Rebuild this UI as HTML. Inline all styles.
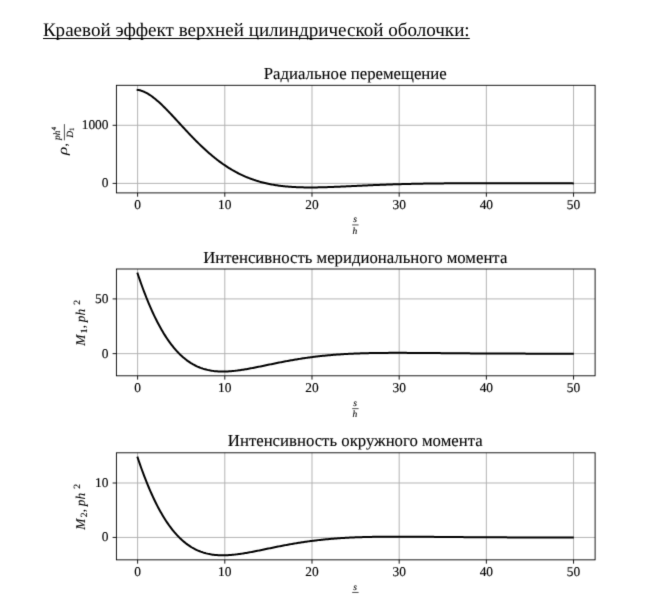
<!DOCTYPE html>
<html><head><meta charset="utf-8"><title>doc</title>
<style>
html,body{margin:0;padding:0;background:#fff;}
body{width:666px;height:594px;overflow:hidden;position:relative;font-family:"Liberation Serif",serif;}
svg{position:absolute;left:0;top:0;}
text{font-family:"Liberation Serif",serif;fill:#000;text-rendering:geometricPrecision;}
.hd{font-size:19.07px;}
.tt{font-size:16.75px;}
.tl{font-size:13.4px;}
.it{font-size:13.4px;font-style:italic;}
.sm{font-size:9.5px;font-style:italic;}
.su{font-size:9.5px;}
.ss{font-size:6.8px;}
.it,.sm,.su,.ss{stroke:#000;stroke-width:0.1px;}
.tl{stroke:#000;stroke-width:0.15px;}
.tt{stroke:#000;stroke-width:0.1px;}
.gr{stroke:#b0b0b0;stroke-width:0.95;}
.fr{fill:none;stroke:#000;stroke-width:0.9;}
.tk{stroke:#000;stroke-width:0.9;}
.bar{stroke:#000;stroke-width:0.7;}
.cv{fill:none;stroke:#000;stroke-width:2.0;stroke-linejoin:round;stroke-linecap:square;}
</style></head><body>
<svg width="666" height="594" viewBox="0 0 666 594">
<defs><filter id="bl" x="0" y="0" width="666" height="594" filterUnits="userSpaceOnUse" color-interpolation-filters="sRGB">
<feConvolveMatrix order="3" kernelMatrix="0.0121 0.0858 0.0121 0.0858 0.6084 0.0858 0.0121 0.0858 0.0121" edgeMode="duplicate" preserveAlpha="false"/></filter></defs>
<rect x="0" y="0" width="666" height="594" fill="#fff"/>
<g filter="url(#bl)">
<rect x="0" y="0" width="666" height="594" fill="#fff"/>
<text x="42.9" y="35.7" class="hd">Краевой эффект верхней цилиндрической оболочки:</text>
<line x1="43.0" y1="38.5" x2="469.8" y2="38.5" stroke="#000" stroke-width="1"/>
<line x1="137.62" y1="85.3" x2="137.62" y2="192.9" class="gr"/>
<line x1="224.81" y1="85.3" x2="224.81" y2="192.9" class="gr"/>
<line x1="311.99" y1="85.3" x2="311.99" y2="192.9" class="gr"/>
<line x1="399.18" y1="85.3" x2="399.18" y2="192.9" class="gr"/>
<line x1="486.36" y1="85.3" x2="486.36" y2="192.9" class="gr"/>
<line x1="573.55" y1="85.3" x2="573.55" y2="192.9" class="gr"/>
<line x1="116.4" y1="183.40" x2="595.1" y2="183.40" class="gr"/>
<line x1="116.4" y1="125.30" x2="595.1" y2="125.30" class="gr"/>
<polyline points="137.62,89.92 138.71,90.08 139.80,90.30 140.88,90.59 141.97,90.94 143.06,91.34 144.15,91.79 145.24,92.30 146.32,92.86 147.41,93.46 148.50,94.11 149.59,94.80 150.68,95.53 151.76,96.30 152.85,97.10 153.94,97.94 155.03,98.81 156.12,99.71 157.21,100.64 158.29,101.59 159.38,102.58 160.47,103.58 161.56,104.60 162.65,105.65 163.73,106.71 164.82,107.79 165.91,108.89 167.00,110.00 168.09,111.12 169.17,112.26 170.26,113.40 171.35,114.55 172.44,115.71 173.53,116.88 174.61,118.05 175.70,119.23 176.79,120.41 177.88,121.59 178.97,122.77 180.05,123.95 181.14,125.13 182.23,126.31 183.32,127.49 184.41,128.67 185.50,129.84 186.58,131.00 187.67,132.16 188.76,133.32 189.85,134.47 190.94,135.61 192.02,136.74 193.11,137.86 194.20,138.98 195.29,140.09 196.38,141.18 197.46,142.27 198.55,143.34 199.64,144.41 200.73,145.46 201.82,146.50 202.90,147.53 203.99,148.54 205.08,149.55 206.17,150.54 207.26,151.51 208.34,152.48 209.43,153.43 210.52,154.36 211.61,155.28 212.70,156.19 213.78,157.08 214.87,157.96 215.96,158.83 217.05,159.68 218.14,160.51 219.23,161.33 220.31,162.13 221.40,162.92 222.49,163.70 223.58,164.46 224.67,165.20 225.75,165.93 226.84,166.65 227.93,167.35 229.02,168.03 230.11,168.70 231.19,169.36 232.28,170.00 233.37,170.63 234.46,171.24 235.55,171.84 236.63,172.42 237.72,172.99 238.81,173.55 239.90,174.09 240.99,174.62 242.07,175.13 243.16,175.63 244.25,176.12 245.34,176.59 246.43,177.05 247.51,177.50 248.60,177.93 249.69,178.36 250.78,178.77 251.87,179.16 252.96,179.55 254.04,179.92 255.13,180.29 256.22,180.64 257.31,180.98 258.40,181.30 259.48,181.62 260.57,181.93 261.66,182.22 262.75,182.51 263.84,182.78 264.92,183.05 266.01,183.30 267.10,183.55 268.19,183.78 269.28,184.01 270.36,184.22 271.45,184.43 272.54,184.63 273.63,184.82 274.72,185.00 275.80,185.18 276.89,185.34 277.98,185.50 279.07,185.65 280.16,185.79 281.25,185.93 282.33,186.06 283.42,186.18 284.51,186.30 285.60,186.40 286.69,186.51 287.77,186.60 288.86,186.69 289.95,186.77 291.04,186.85 292.13,186.92 293.21,186.99 294.30,187.05 295.39,187.11 296.48,187.16 297.57,187.21 298.65,187.25 299.74,187.29 300.83,187.32 301.92,187.35 303.01,187.37 304.09,187.39 305.18,187.41 306.27,187.43 307.36,187.44 308.45,187.44 309.53,187.44 310.62,187.44 311.71,187.44 312.80,187.44 313.89,187.43 314.98,187.42 316.06,187.40 317.15,187.38 318.24,187.37 319.33,187.34 320.42,187.32 321.50,187.30 322.59,187.27 323.68,187.24 324.77,187.21 325.86,187.18 326.94,187.14 328.03,187.11 329.12,187.07 330.21,187.03 331.30,186.99 332.38,186.95 333.47,186.91 334.56,186.86 335.65,186.82 336.74,186.78 337.82,186.73 338.91,186.68 340.00,186.64 341.09,186.59 342.18,186.54 343.27,186.49 344.35,186.44 345.44,186.39 346.53,186.34 347.62,186.29 348.71,186.24 349.79,186.19 350.88,186.14 351.97,186.09 353.06,186.04 354.15,185.99 355.23,185.94 356.32,185.88 357.41,185.83 358.50,185.78 359.59,185.73 360.67,185.68 361.76,185.63 362.85,185.58 363.94,185.53 365.03,185.48 366.11,185.43 367.20,185.38 368.29,185.34 369.38,185.29 370.47,185.24 371.55,185.19 372.64,185.15 373.73,185.10 374.82,185.05 375.91,185.01 377.00,184.97 378.08,184.92 379.17,184.88 380.26,184.83 381.35,184.79 382.44,184.75 383.52,184.71 384.61,184.67 385.70,184.63 386.79,184.59 387.88,184.55 388.96,184.51 390.05,184.47 391.14,184.44 392.23,184.40 393.32,184.37 394.40,184.33 395.49,184.30 396.58,184.26 397.67,184.23 398.76,184.20 399.84,184.17 400.93,184.13 402.02,184.10 403.11,184.07 404.20,184.04 405.28,184.02 406.37,183.99 407.46,183.96 408.55,183.93 409.64,183.91 410.73,183.88 411.81,183.86 412.90,183.83 413.99,183.81 415.08,183.79 416.17,183.76 417.25,183.74 418.34,183.72 419.43,183.70 420.52,183.68 421.61,183.66 422.69,183.64 423.78,183.62 424.87,183.61 425.96,183.59 427.05,183.57 428.13,183.56 429.22,183.54 430.31,183.52 431.40,183.51 432.49,183.50 433.57,183.48 434.66,183.47 435.75,183.46 436.84,183.44 437.93,183.43 439.02,183.42 440.10,183.41 441.19,183.40 442.28,183.39 443.37,183.38 444.46,183.37 445.54,183.36 446.63,183.35 447.72,183.34 448.81,183.33 449.90,183.33 450.98,183.32 452.07,183.31 453.16,183.30 454.25,183.30 455.34,183.29 456.42,183.29 457.51,183.28 458.60,183.28 459.69,183.27 460.78,183.27 461.86,183.26 462.95,183.26 464.04,183.26 465.13,183.25 466.22,183.25 467.30,183.25 468.39,183.24 469.48,183.24 470.57,183.24 471.66,183.24 472.75,183.23 473.83,183.23 474.92,183.23 476.01,183.23 477.10,183.23 478.19,183.23 479.27,183.23 480.36,183.23 481.45,183.23 482.54,183.23 483.63,183.23 484.71,183.23 485.80,183.23 486.89,183.23 487.98,183.23 489.07,183.23 490.15,183.23 491.24,183.23 492.33,183.23 493.42,183.23 494.51,183.23 495.59,183.23 496.68,183.23 497.77,183.23 498.86,183.23 499.95,183.24 501.03,183.24 502.12,183.24 503.21,183.24 504.30,183.24 505.39,183.24 506.48,183.25 507.56,183.25 508.65,183.25 509.74,183.25 510.83,183.25 511.92,183.26 513.00,183.26 514.09,183.26 515.18,183.26 516.27,183.26 517.36,183.27 518.44,183.27 519.53,183.27 520.62,183.27 521.71,183.27 522.80,183.28 523.88,183.28 524.97,183.28 526.06,183.28 527.15,183.29 528.24,183.29 529.32,183.29 530.41,183.29 531.50,183.29 532.59,183.30 533.68,183.30 534.77,183.30 535.85,183.30 536.94,183.31 538.03,183.31 539.12,183.31 540.21,183.31 541.29,183.31 542.38,183.32 543.47,183.32 544.56,183.32 545.65,183.32 546.73,183.32 547.82,183.33 548.91,183.33 550.00,183.33 551.09,183.33 552.17,183.33 553.26,183.34 554.35,183.34 555.44,183.34 556.53,183.34 557.61,183.34 558.70,183.34 559.79,183.35 560.88,183.35 561.97,183.35 563.05,183.35 564.14,183.35 565.23,183.35 566.32,183.36 567.41,183.36 568.50,183.36 569.58,183.36 570.67,183.36 571.76,183.36 572.85,183.37" class="cv"/>
<rect x="116.4" y="85.3" width="478.70" height="107.60" class="fr"/>
<line x1="137.62" y1="192.9" x2="137.62" y2="196.70000000000002" class="tk"/>
<text x="137.62" y="209.20" class="tl" text-anchor="middle">0</text>
<line x1="224.81" y1="192.9" x2="224.81" y2="196.70000000000002" class="tk"/>
<text x="224.81" y="209.20" class="tl" text-anchor="middle">10</text>
<line x1="311.99" y1="192.9" x2="311.99" y2="196.70000000000002" class="tk"/>
<text x="311.99" y="209.20" class="tl" text-anchor="middle">20</text>
<line x1="399.18" y1="192.9" x2="399.18" y2="196.70000000000002" class="tk"/>
<text x="399.18" y="209.20" class="tl" text-anchor="middle">30</text>
<line x1="486.36" y1="192.9" x2="486.36" y2="196.70000000000002" class="tk"/>
<text x="486.36" y="209.20" class="tl" text-anchor="middle">40</text>
<line x1="573.55" y1="192.9" x2="573.55" y2="196.70000000000002" class="tk"/>
<text x="573.55" y="209.20" class="tl" text-anchor="middle">50</text>
<line x1="112.60000000000001" y1="183.40" x2="116.4" y2="183.40" class="tk"/>
<text x="108.50" y="187.30" class="tl" text-anchor="end">0</text>
<line x1="112.60000000000001" y1="125.30" x2="116.4" y2="125.30" class="tk"/>
<text x="108.50" y="129.20" class="tl" text-anchor="end">1000</text>
<text x="355.25" y="78.80" class="tt" text-anchor="middle">Радиальное перемещение</text>
<text x="355.10" y="222.10" class="sm" text-anchor="middle">s</text>
<line x1="352.20" y1="224.95" x2="358.60" y2="224.95" class="bar"/>
<text x="354.90" y="233.60" class="sm" text-anchor="middle">h</text>
<g transform="translate(67,139.50) rotate(-90)"><text transform="translate(-15.4,0) scale(1.28,1)" class="it" style="stroke:none">ρ</text><text x="-7.0" y="0" class="it">,</text><line x1="-0.8" y1="-2.6" x2="15.4" y2="-2.6" class="bar"/><text x="-0.6" y="-6.6" class="sm">ph</text><text x="9.2" y="-10.8" class="ss">4</text><text x="1.8" y="6.1" class="sm">D</text><text x="8.6" y="6.9" class="ss">1</text></g>
<line x1="137.62" y1="269.0" x2="137.62" y2="375.8" class="gr"/>
<line x1="224.81" y1="269.0" x2="224.81" y2="375.8" class="gr"/>
<line x1="311.99" y1="269.0" x2="311.99" y2="375.8" class="gr"/>
<line x1="399.18" y1="269.0" x2="399.18" y2="375.8" class="gr"/>
<line x1="486.36" y1="269.0" x2="486.36" y2="375.8" class="gr"/>
<line x1="573.55" y1="269.0" x2="573.55" y2="375.8" class="gr"/>
<line x1="116.4" y1="353.63" x2="595.1" y2="353.63" class="gr"/>
<line x1="116.4" y1="298.92" x2="595.1" y2="298.92" class="gr"/>
<polyline points="137.62,273.53 138.71,276.76 139.80,279.92 140.88,283.01 141.97,286.03 143.06,289.00 144.15,291.89 145.24,294.72 146.32,297.49 147.41,300.19 148.50,302.83 149.59,305.41 150.68,307.92 151.76,310.37 152.85,312.76 153.94,315.09 155.03,317.35 156.12,319.56 157.21,321.71 158.29,323.80 159.38,325.83 160.47,327.81 161.56,329.73 162.65,331.59 163.73,333.40 164.82,335.15 165.91,336.85 167.00,338.50 168.09,340.10 169.17,341.64 170.26,343.13 171.35,344.58 172.44,345.97 173.53,347.32 174.61,348.62 175.70,349.88 176.79,351.09 177.88,352.25 178.97,353.37 180.05,354.45 181.14,355.49 182.23,356.48 183.32,357.44 184.41,358.35 185.50,359.23 186.58,360.07 187.67,360.87 188.76,361.63 189.85,362.36 190.94,363.06 192.02,363.72 193.11,364.35 194.20,364.94 195.29,365.51 196.38,366.04 197.46,366.55 198.55,367.02 199.64,367.47 200.73,367.89 201.82,368.28 202.90,368.65 203.99,368.99 205.08,369.30 206.17,369.59 207.26,369.86 208.34,370.11 209.43,370.33 210.52,370.54 211.61,370.72 212.70,370.88 213.78,371.03 214.87,371.15 215.96,371.26 217.05,371.35 218.14,371.42 219.23,371.48 220.31,371.52 221.40,371.54 222.49,371.56 223.58,371.55 224.67,371.54 225.75,371.51 226.84,371.47 227.93,371.41 229.02,371.35 230.11,371.28 231.19,371.19 232.28,371.09 233.37,370.99 234.46,370.88 235.55,370.75 236.63,370.62 237.72,370.48 238.81,370.34 239.90,370.18 240.99,370.02 242.07,369.86 243.16,369.69 244.25,369.51 245.34,369.33 246.43,369.14 247.51,368.95 248.60,368.75 249.69,368.55 250.78,368.35 251.87,368.14 252.96,367.94 254.04,367.72 255.13,367.51 256.22,367.29 257.31,367.07 258.40,366.85 259.48,366.63 260.57,366.41 261.66,366.18 262.75,365.96 263.84,365.73 264.92,365.51 266.01,365.28 267.10,365.05 268.19,364.83 269.28,364.60 270.36,364.38 271.45,364.15 272.54,363.93 273.63,363.70 274.72,363.48 275.80,363.26 276.89,363.04 277.98,362.82 279.07,362.60 280.16,362.39 281.25,362.17 282.33,361.96 283.42,361.75 284.51,361.54 285.60,361.34 286.69,361.13 287.77,360.93 288.86,360.73 289.95,360.53 291.04,360.34 292.13,360.15 293.21,359.96 294.30,359.77 295.39,359.58 296.48,359.40 297.57,359.22 298.65,359.04 299.74,358.87 300.83,358.70 301.92,358.53 303.01,358.36 304.09,358.20 305.18,358.04 306.27,357.88 307.36,357.73 308.45,357.58 309.53,357.43 310.62,357.28 311.71,357.14 312.80,357.00 313.89,356.86 314.98,356.73 316.06,356.59 317.15,356.47 318.24,356.34 319.33,356.22 320.42,356.10 321.50,355.98 322.59,355.86 323.68,355.75 324.77,355.64 325.86,355.53 326.94,355.43 328.03,355.33 329.12,355.23 330.21,355.13 331.30,355.04 332.38,354.95 333.47,354.86 334.56,354.77 335.65,354.69 336.74,354.61 337.82,354.53 338.91,354.45 340.00,354.38 341.09,354.31 342.18,354.24 343.27,354.17 344.35,354.11 345.44,354.04 346.53,353.98 347.62,353.92 348.71,353.87 349.79,353.81 350.88,353.76 351.97,353.71 353.06,353.66 354.15,353.61 355.23,353.56 356.32,353.52 357.41,353.48 358.50,353.44 359.59,353.40 360.67,353.36 361.76,353.33 362.85,353.30 363.94,353.26 365.03,353.23 366.11,353.20 367.20,353.18 368.29,353.15 369.38,353.12 370.47,353.10 371.55,353.08 372.64,353.06 373.73,353.04 374.82,353.02 375.91,353.00 377.00,352.99 378.08,352.97 379.17,352.96 380.26,352.94 381.35,352.93 382.44,352.92 383.52,352.91 384.61,352.90 385.70,352.89 386.79,352.89 387.88,352.88 388.96,352.87 390.05,352.87 391.14,352.87 392.23,352.86 393.32,352.86 394.40,352.86 395.49,352.86 396.58,352.86 397.67,352.86 398.76,352.86 399.84,352.86 400.93,352.86 402.02,352.86 403.11,352.86 404.20,352.87 405.28,352.87 406.37,352.87 407.46,352.88 408.55,352.88 409.64,352.89 410.73,352.89 411.81,352.90 412.90,352.91 413.99,352.91 415.08,352.92 416.17,352.93 417.25,352.93 418.34,352.94 419.43,352.95 420.52,352.96 421.61,352.97 422.69,352.97 423.78,352.98 424.87,352.99 425.96,353.00 427.05,353.01 428.13,353.02 429.22,353.03 430.31,353.04 431.40,353.05 432.49,353.06 433.57,353.06 434.66,353.07 435.75,353.08 436.84,353.09 437.93,353.10 439.02,353.11 440.10,353.12 441.19,353.13 442.28,353.14 443.37,353.15 444.46,353.16 445.54,353.17 446.63,353.18 447.72,353.19 448.81,353.20 449.90,353.21 450.98,353.22 452.07,353.23 453.16,353.24 454.25,353.25 455.34,353.26 456.42,353.27 457.51,353.28 458.60,353.29 459.69,353.29 460.78,353.30 461.86,353.31 462.95,353.32 464.04,353.33 465.13,353.34 466.22,353.35 467.30,353.35 468.39,353.36 469.48,353.37 470.57,353.38 471.66,353.39 472.75,353.39 473.83,353.40 474.92,353.41 476.01,353.42 477.10,353.42 478.19,353.43 479.27,353.44 480.36,353.44 481.45,353.45 482.54,353.46 483.63,353.46 484.71,353.47 485.80,353.48 486.89,353.48 487.98,353.49 489.07,353.49 490.15,353.50 491.24,353.51 492.33,353.51 493.42,353.52 494.51,353.52 495.59,353.53 496.68,353.53 497.77,353.54 498.86,353.54 499.95,353.55 501.03,353.55 502.12,353.56 503.21,353.56 504.30,353.56 505.39,353.57 506.48,353.57 507.56,353.58 508.65,353.58 509.74,353.58 510.83,353.59 511.92,353.59 513.00,353.59 514.09,353.60 515.18,353.60 516.27,353.60 517.36,353.61 518.44,353.61 519.53,353.61 520.62,353.61 521.71,353.62 522.80,353.62 523.88,353.62 524.97,353.62 526.06,353.63 527.15,353.63 528.24,353.63 529.32,353.63 530.41,353.63 531.50,353.64 532.59,353.64 533.68,353.64 534.77,353.64 535.85,353.64 536.94,353.64 538.03,353.65 539.12,353.65 540.21,353.65 541.29,353.65 542.38,353.65 543.47,353.65 544.56,353.65 545.65,353.65 546.73,353.65 547.82,353.66 548.91,353.66 550.00,353.66 551.09,353.66 552.17,353.66 553.26,353.66 554.35,353.66 555.44,353.66 556.53,353.66 557.61,353.66 558.70,353.66 559.79,353.66 560.88,353.66 561.97,353.66 563.05,353.66 564.14,353.66 565.23,353.66 566.32,353.66 567.41,353.66 568.50,353.66 569.58,353.66 570.67,353.66 571.76,353.66 572.85,353.66" class="cv"/>
<rect x="116.4" y="269.0" width="478.70" height="106.80" class="fr"/>
<line x1="137.62" y1="375.8" x2="137.62" y2="379.6" class="tk"/>
<text x="137.62" y="392.10" class="tl" text-anchor="middle">0</text>
<line x1="224.81" y1="375.8" x2="224.81" y2="379.6" class="tk"/>
<text x="224.81" y="392.10" class="tl" text-anchor="middle">10</text>
<line x1="311.99" y1="375.8" x2="311.99" y2="379.6" class="tk"/>
<text x="311.99" y="392.10" class="tl" text-anchor="middle">20</text>
<line x1="399.18" y1="375.8" x2="399.18" y2="379.6" class="tk"/>
<text x="399.18" y="392.10" class="tl" text-anchor="middle">30</text>
<line x1="486.36" y1="375.8" x2="486.36" y2="379.6" class="tk"/>
<text x="486.36" y="392.10" class="tl" text-anchor="middle">40</text>
<line x1="573.55" y1="375.8" x2="573.55" y2="379.6" class="tk"/>
<text x="573.55" y="392.10" class="tl" text-anchor="middle">50</text>
<line x1="112.60000000000001" y1="353.63" x2="116.4" y2="353.63" class="tk"/>
<text x="108.50" y="357.53" class="tl" text-anchor="end">0</text>
<line x1="112.60000000000001" y1="298.92" x2="116.4" y2="298.92" class="tk"/>
<text x="108.50" y="302.82" class="tl" text-anchor="end">50</text>
<text x="355.25" y="262.50" class="tt" text-anchor="middle">Интенсивность меридионального момента</text>
<text x="355.10" y="405.80" class="sm" text-anchor="middle">s</text>
<line x1="352.20" y1="408.65" x2="358.60" y2="408.65" class="bar"/>
<text x="354.90" y="417.30" class="sm" text-anchor="middle">h</text>
<g transform="translate(84.7,322.90) rotate(-90)"><text x="-22.8" y="0" class="it">M</text><text x="-10.4" y="2.6" class="su">1</text><text x="-5.3" y="0" class="it">,</text><text x="0.6" y="0" class="it">ph</text><text x="18.2" y="-4.6" class="su">2</text></g>
<line x1="137.62" y1="452.8" x2="137.62" y2="559.85" class="gr"/>
<line x1="224.81" y1="452.8" x2="224.81" y2="559.85" class="gr"/>
<line x1="311.99" y1="452.8" x2="311.99" y2="559.85" class="gr"/>
<line x1="399.18" y1="452.8" x2="399.18" y2="559.85" class="gr"/>
<line x1="486.36" y1="452.8" x2="486.36" y2="559.85" class="gr"/>
<line x1="573.55" y1="452.8" x2="573.55" y2="559.85" class="gr"/>
<line x1="116.4" y1="537.43" x2="595.1" y2="537.43" class="gr"/>
<line x1="116.4" y1="483.00" x2="595.1" y2="483.00" class="gr"/>
<polyline points="137.62,457.53 138.71,460.74 139.80,463.89 140.88,466.98 141.97,470.00 143.06,472.95 144.15,475.84 145.24,478.66 146.32,481.42 147.41,484.12 148.50,486.75 149.59,489.32 150.68,491.83 151.76,494.27 152.85,496.66 153.94,498.98 155.03,501.24 156.12,503.44 157.21,505.59 158.29,507.67 159.38,509.70 160.47,511.67 161.56,513.58 162.65,515.44 163.73,517.25 164.82,519.00 165.91,520.69 167.00,522.34 168.09,523.93 169.17,525.47 170.26,526.96 171.35,528.40 172.44,529.79 173.53,531.14 174.61,532.44 175.70,533.69 176.79,534.89 177.88,536.06 178.97,537.17 180.05,538.25 181.14,539.28 182.23,540.28 183.32,541.23 184.41,542.14 185.50,543.02 186.58,543.85 187.67,544.65 188.76,545.41 189.85,546.14 190.94,546.84 192.02,547.50 193.11,548.12 194.20,548.72 195.29,549.28 196.38,549.81 197.46,550.32 198.55,550.79 199.64,551.23 200.73,551.65 201.82,552.04 202.90,552.41 203.99,552.75 205.08,553.06 206.17,553.36 207.26,553.62 208.34,553.87 209.43,554.09 210.52,554.30 211.61,554.48 212.70,554.64 213.78,554.78 214.87,554.91 215.96,555.02 217.05,555.11 218.14,555.18 219.23,555.23 220.31,555.28 221.40,555.30 222.49,555.31 223.58,555.31 224.67,555.29 225.75,555.27 226.84,555.22 227.93,555.17 229.02,555.11 230.11,555.03 231.19,554.95 232.28,554.85 233.37,554.75 234.46,554.63 235.55,554.51 236.63,554.38 237.72,554.24 238.81,554.10 239.90,553.94 240.99,553.79 242.07,553.62 243.16,553.45 244.25,553.27 245.34,553.09 246.43,552.90 247.51,552.71 248.60,552.52 249.69,552.32 250.78,552.12 251.87,551.91 252.96,551.70 254.04,551.49 255.13,551.28 256.22,551.06 257.31,550.84 258.40,550.62 259.48,550.40 260.57,550.18 261.66,549.95 262.75,549.73 263.84,549.50 264.92,549.28 266.01,549.05 267.10,548.83 268.19,548.60 269.28,548.37 270.36,548.15 271.45,547.93 272.54,547.70 273.63,547.48 274.72,547.26 275.80,547.04 276.89,546.82 277.98,546.60 279.07,546.38 280.16,546.17 281.25,545.95 282.33,545.74 283.42,545.53 284.51,545.32 285.60,545.12 286.69,544.91 287.77,544.71 288.86,544.51 289.95,544.32 291.04,544.12 292.13,543.93 293.21,543.74 294.30,543.55 295.39,543.37 296.48,543.19 297.57,543.01 298.65,542.83 299.74,542.66 300.83,542.49 301.92,542.32 303.01,542.15 304.09,541.99 305.18,541.83 306.27,541.67 307.36,541.52 308.45,541.37 309.53,541.22 310.62,541.07 311.71,540.93 312.80,540.79 313.89,540.65 314.98,540.52 316.06,540.39 317.15,540.26 318.24,540.13 319.33,540.01 320.42,539.89 321.50,539.77 322.59,539.66 323.68,539.55 324.77,539.44 325.86,539.33 326.94,539.23 328.03,539.13 329.12,539.03 330.21,538.93 331.30,538.84 332.38,538.75 333.47,538.66 334.56,538.57 335.65,538.49 336.74,538.41 337.82,538.33 338.91,538.25 340.00,538.18 341.09,538.11 342.18,538.04 343.27,537.97 344.35,537.90 345.44,537.84 346.53,537.78 347.62,537.72 348.71,537.66 349.79,537.61 350.88,537.56 351.97,537.51 353.06,537.46 354.15,537.41 355.23,537.36 356.32,537.32 357.41,537.28 358.50,537.24 359.59,537.20 360.67,537.16 361.76,537.13 362.85,537.10 363.94,537.06 365.03,537.03 366.11,537.00 367.20,536.98 368.29,536.95 369.38,536.93 370.47,536.90 371.55,536.88 372.64,536.86 373.73,536.84 374.82,536.82 375.91,536.80 377.00,536.79 378.08,536.77 379.17,536.76 380.26,536.75 381.35,536.73 382.44,536.72 383.52,536.71 384.61,536.70 385.70,536.70 386.79,536.69 387.88,536.68 388.96,536.68 390.05,536.67 391.14,536.67 392.23,536.66 393.32,536.66 394.40,536.66 395.49,536.66 396.58,536.66 397.67,536.66 398.76,536.66 399.84,536.66 400.93,536.66 402.02,536.66 403.11,536.67 404.20,536.67 405.28,536.67 406.37,536.68 407.46,536.68 408.55,536.68 409.64,536.69 410.73,536.70 411.81,536.70 412.90,536.71 413.99,536.71 415.08,536.72 416.17,536.73 417.25,536.74 418.34,536.74 419.43,536.75 420.52,536.76 421.61,536.77 422.69,536.78 423.78,536.78 424.87,536.79 425.96,536.80 427.05,536.81 428.13,536.82 429.22,536.83 430.31,536.84 431.40,536.85 432.49,536.86 433.57,536.87 434.66,536.88 435.75,536.89 436.84,536.90 437.93,536.90 439.02,536.91 440.10,536.92 441.19,536.93 442.28,536.94 443.37,536.95 444.46,536.96 445.54,536.97 446.63,536.98 447.72,536.99 448.81,537.00 449.90,537.01 450.98,537.02 452.07,537.03 453.16,537.04 454.25,537.05 455.34,537.06 456.42,537.07 457.51,537.08 458.60,537.09 459.69,537.09 460.78,537.10 461.86,537.11 462.95,537.12 464.04,537.13 465.13,537.14 466.22,537.15 467.30,537.15 468.39,537.16 469.48,537.17 470.57,537.18 471.66,537.19 472.75,537.19 473.83,537.20 474.92,537.21 476.01,537.22 477.10,537.22 478.19,537.23 479.27,537.24 480.36,537.24 481.45,537.25 482.54,537.26 483.63,537.26 484.71,537.27 485.80,537.28 486.89,537.28 487.98,537.29 489.07,537.29 490.15,537.30 491.24,537.31 492.33,537.31 493.42,537.32 494.51,537.32 495.59,537.33 496.68,537.33 497.77,537.34 498.86,537.34 499.95,537.35 501.03,537.35 502.12,537.36 503.21,537.36 504.30,537.36 505.39,537.37 506.48,537.37 507.56,537.38 508.65,537.38 509.74,537.38 510.83,537.39 511.92,537.39 513.00,537.39 514.09,537.40 515.18,537.40 516.27,537.40 517.36,537.41 518.44,537.41 519.53,537.41 520.62,537.41 521.71,537.42 522.80,537.42 523.88,537.42 524.97,537.42 526.06,537.43 527.15,537.43 528.24,537.43 529.32,537.43 530.41,537.43 531.50,537.44 532.59,537.44 533.68,537.44 534.77,537.44 535.85,537.44 536.94,537.44 538.03,537.45 539.12,537.45 540.21,537.45 541.29,537.45 542.38,537.45 543.47,537.45 544.56,537.45 545.65,537.45 546.73,537.45 547.82,537.46 548.91,537.46 550.00,537.46 551.09,537.46 552.17,537.46 553.26,537.46 554.35,537.46 555.44,537.46 556.53,537.46 557.61,537.46 558.70,537.46 559.79,537.46 560.88,537.46 561.97,537.46 563.05,537.46 564.14,537.46 565.23,537.46 566.32,537.46 567.41,537.46 568.50,537.46 569.58,537.46 570.67,537.46 571.76,537.46 572.85,537.46" class="cv"/>
<rect x="116.4" y="452.8" width="478.70" height="107.05" class="fr"/>
<line x1="137.62" y1="559.85" x2="137.62" y2="563.65" class="tk"/>
<text x="137.62" y="576.15" class="tl" text-anchor="middle">0</text>
<line x1="224.81" y1="559.85" x2="224.81" y2="563.65" class="tk"/>
<text x="224.81" y="576.15" class="tl" text-anchor="middle">10</text>
<line x1="311.99" y1="559.85" x2="311.99" y2="563.65" class="tk"/>
<text x="311.99" y="576.15" class="tl" text-anchor="middle">20</text>
<line x1="399.18" y1="559.85" x2="399.18" y2="563.65" class="tk"/>
<text x="399.18" y="576.15" class="tl" text-anchor="middle">30</text>
<line x1="486.36" y1="559.85" x2="486.36" y2="563.65" class="tk"/>
<text x="486.36" y="576.15" class="tl" text-anchor="middle">40</text>
<line x1="573.55" y1="559.85" x2="573.55" y2="563.65" class="tk"/>
<text x="573.55" y="576.15" class="tl" text-anchor="middle">50</text>
<line x1="112.60000000000001" y1="537.43" x2="116.4" y2="537.43" class="tk"/>
<text x="108.50" y="541.33" class="tl" text-anchor="end">0</text>
<line x1="112.60000000000001" y1="483.00" x2="116.4" y2="483.00" class="tk"/>
<text x="108.50" y="486.90" class="tl" text-anchor="end">10</text>
<text x="355.25" y="446.30" class="tt" text-anchor="middle">Интенсивность окружного момента</text>
<text x="355.10" y="589.60" class="sm" text-anchor="middle">s</text>
<line x1="352.20" y1="592.45" x2="358.60" y2="592.45" class="bar"/>
<text x="354.90" y="601.10" class="sm" text-anchor="middle">h</text>
<g transform="translate(84.7,506.83) rotate(-90)"><text x="-22.8" y="0" class="it">M</text><text x="-10.4" y="2.6" class="su">2</text><text x="-5.3" y="0" class="it">,</text><text x="0.6" y="0" class="it">ph</text><text x="18.2" y="-4.6" class="su">2</text></g>
</g>
</svg>
</body></html>
